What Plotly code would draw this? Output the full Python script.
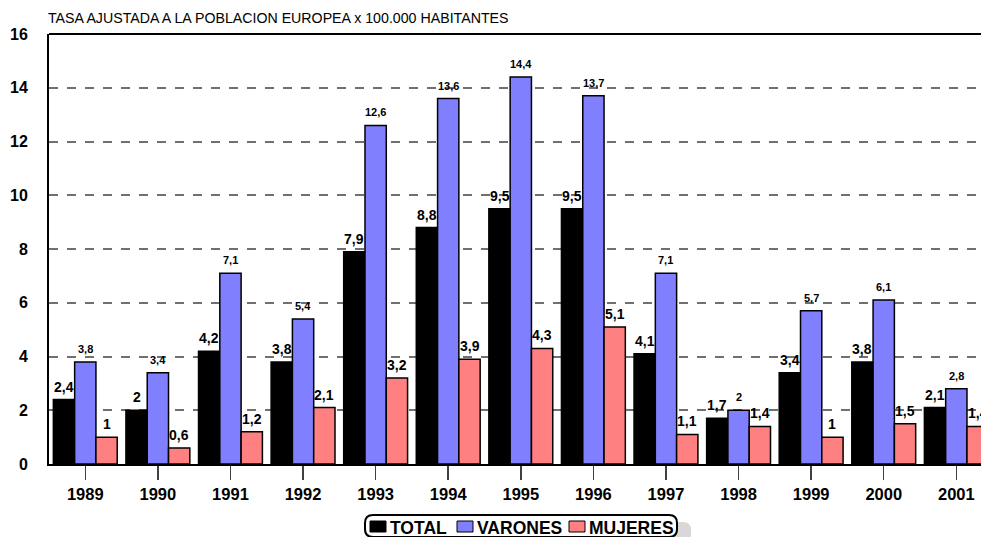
import plotly.graph_objects as go

years = ["1989", "1990", "1991", "1992", "1993", "1994", "1995", "1996", "1997", "1998", "1999", "2000", "2001"]
total = [2.4, 2, 4.2, 3.8, 7.9, 8.8, 9.5, 9.5, 4.1, 1.7, 3.4, 3.8, 2.1]
varones = [3.8, 3.4, 7.1, 5.4, 12.6, 13.6, 14.4, 13.7, 7.1, 2, 5.7, 6.1, 2.8]
mujeres = [1, 0.6, 1.2, 2.1, 3.2, 3.9, 4.3, 5.1, 1.1, 1.4, 1, 1.5, 1.4]
series_names = ["TOTAL", "VARONES", "MUJERES"]
series_colors = ["#000000", "#8080FF", "#FF8080"]
label_sizes = [14, 11, 14]

FONT = "Liberation Sans, Arial, sans-serif"
W, H = 981, 537
L, R, T, B = 49, 0, 34, 73
PW, PH = W - L - R, H - T - B

bargap = 0.12
w = (1 - bargap) / 3
xs = list(range(len(years)))


def fmt(v):
    return ("%g" % v).replace(".", ",")


def px(x):
    return (x - L) / PW


def py(y):
    return (H - B - y) / PH


fig = go.Figure()
annotations = []
for k, (name, vals) in enumerate(zip(series_names, [total, varones, mujeres])):
    fig.add_trace(go.Bar(
        x=xs, y=vals, name=name, showlegend=False, hoverinfo="skip",
        marker=dict(color=series_colors[k], line=dict(color="#000000", width=1.5)),
    ))
    for i, v in enumerate(vals):
        annotations.append(dict(
            x=i + (k - 1) * w, y=v, xref="x", yref="y",
            text=fmt(v), showarrow=False, yanchor="middle", yshift=13,
            font=dict(family=FONT, size=label_sizes[k], color="#000000", weight="bold"),
        ))

annotations.append(dict(
    x=0, y=1, xref="paper", yref="paper", xanchor="left", yanchor="middle",
    xshift=-3, yshift=16, showarrow=False,
    text="TASA AJUSTADA A LA POBLACION EUROPEA x 100.000 HABITANTES",
    font=dict(family=FONT, size=14.2, color="#000000"),
))

shapes = [dict(type="line", xref="paper", yref="paper", x0=0, x1=1, y0=1, y1=1,
               line=dict(color="#000000", width=2))]


def rounded(x0, y0, x1, y1, r):
    return (f"M {px(x0 + r)} {py(y0)} L {px(x1 - r)} {py(y0)} "
            f"Q {px(x1)} {py(y0)} {px(x1)} {py(y0 + r)} L {px(x1)} {py(y1 - r)} "
            f"Q {px(x1)} {py(y1)} {px(x1 - r)} {py(y1)} L {px(x0 + r)} {py(y1)} "
            f"Q {px(x0)} {py(y1)} {px(x0)} {py(y1 - r)} L {px(x0)} {py(y0 + r)} "
            f"Q {px(x0)} {py(y0)} {px(x0 + r)} {py(y0)} Z")


# custom legend: rounded box with shadow
shapes.append(dict(type="path", xref="paper", yref="paper", path=rounded(373, 522, 691, 544, 8),
                   fillcolor="#d8d8d8", line=dict(width=0), layer="above"))
shapes.append(dict(type="path", xref="paper", yref="paper", path=rounded(365, 515, 677, 537, 8),
                   fillcolor="white", line=dict(color="#000000", width=2), layer="above"))
sym_x = [370, 457, 569]
for k in range(3):
    shapes.append(dict(type="rect", xref="paper", yref="paper",
                       x0=px(sym_x[k]), x1=px(sym_x[k] + 16), y0=py(521), y1=py(532),
                       fillcolor=series_colors[k], line=dict(color="#000000", width=1),
                       layer="above"))
    annotations.append(dict(
        x=px(sym_x[k] + 18), y=py(527.5), xref="paper", yref="paper",
        xanchor="left", yanchor="middle", showarrow=False, text=series_names[k],
        font=dict(family=FONT, size=17.5, color="#000000", weight="bold"),
    ))

fig.update_layout(
    width=W, height=H,
    margin=dict(l=L, r=R, t=T, b=B),
    paper_bgcolor="white", plot_bgcolor="white",
    barmode="group", bargap=bargap, bargroupgap=0,
    annotations=annotations, shapes=shapes,
    showlegend=False, hovermode=False,
    xaxis=dict(
        range=[-0.5, 12.34], tickmode="array", tickvals=xs, ticktext=years,
        showgrid=False, zeroline=False, automargin=False,
        showline=True, linecolor="#000000", linewidth=2,
        ticks="outside", ticklen=14, tickcolor="#404040", tickwidth=1.5,
        tickfont=dict(family=FONT, size=16.5, color="#000000", weight="bold"),
    ),
    yaxis=dict(
        range=[0, 16], tickmode="array", tickvals=list(range(0, 17, 2)),
        showgrid=True, gridcolor="#707070", gridwidth=2, griddash="dash",
        zeroline=False, showline=True, linecolor="#000000", linewidth=2,
        automargin=False,
        ticks="outside", ticklen=16, tickcolor="rgba(0,0,0,0)",
        tickfont=dict(family=FONT, size=16, color="#000000", weight="bold"),
    ),
)

fig.write_html(
    "out.html",
    config={"displayModeBar": False, "staticPlot": True},
    post_script="document.body.style.margin='0';document.body.style.overflow='hidden';",
)
